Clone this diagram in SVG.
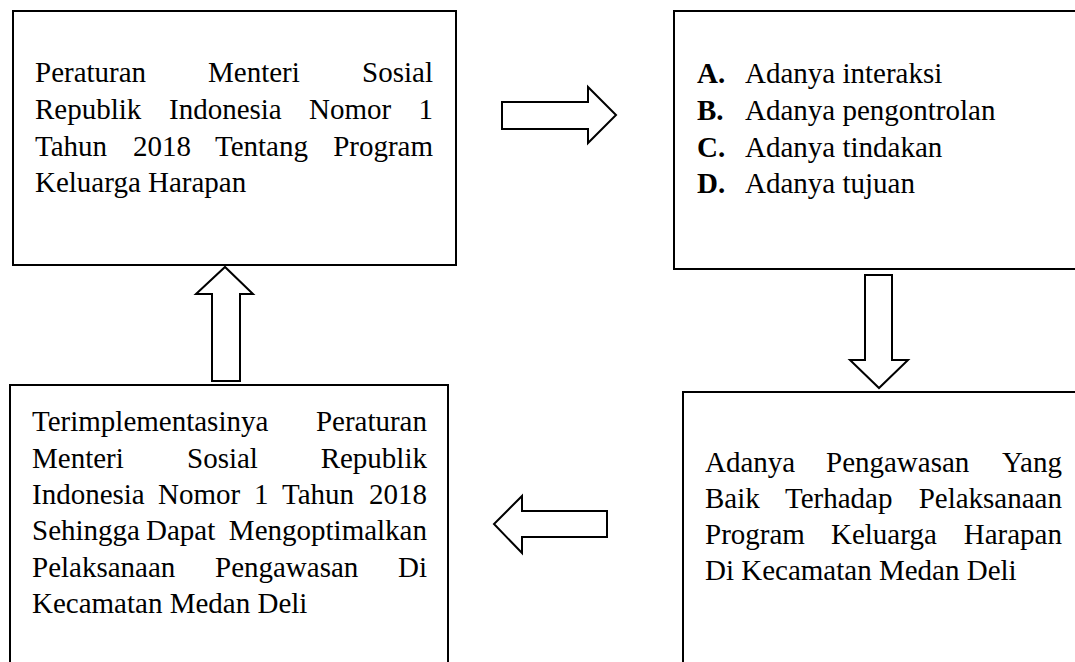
<svg xmlns="http://www.w3.org/2000/svg" width="1075" height="662" viewBox="0 0 1075 662">
<style>
.box{fill:#fff;stroke:#000;stroke-width:2}
.arr{fill:#fff;stroke:#000;stroke-width:2;stroke-linejoin:miter}
text{font-family:"Liberation Serif","Times New Roman",serif;font-size:29px;fill:#000}
.b{font-weight:bold}
.e{text-anchor:end}
</style>
<rect width="1075" height="662" fill="#fff"/>
<g id="node-peraturan">
<rect class="box" x="13" y="11" width="443" height="254"/>
<text x="35" y="82">Peraturan</text><text x="208" y="82">Menteri</text><text class="e" x="433" y="82">Sosial</text>
<text x="35" y="119">Republik</text><text x="169" y="119">Indonesia</text><text x="309" y="119">Nomor</text><text class="e" x="433" y="119">1</text>
<text x="35" y="156">Tahun</text><text x="133" y="156">2018</text><text x="215" y="156">Tentang</text><text class="e" x="433" y="156">Program</text>
<text x="35" y="192">Keluarga Harapan</text>
</g>
<g id="node-indikator">
<rect class="box" x="674" y="11" width="420" height="258"/>
<text class="b" x="697" y="83">A.</text><text x="745" y="83">Adanya interaksi</text>
<text class="b" x="697" y="120">B.</text><text x="745" y="120">Adanya pengontrolan</text>
<text class="b" x="697" y="157">C.</text><text x="745" y="157">Adanya tindakan</text>
<text class="b" x="697" y="193">D.</text><text x="745" y="193">Adanya tujuan</text>
</g>
<g id="node-pengawasan">
<rect class="box" x="683" y="392" width="420" height="300"/>
<text x="705" y="472">Adanya</text><text x="826" y="472">Pengawasan</text><text class="e" x="1062" y="472">Yang</text>
<text x="705" y="508">Baik</text><text x="785" y="508">Terhadap</text><text class="e" x="1062" y="508">Pelaksanaan</text>
<text x="705" y="544">Program</text><text x="831" y="544">Keluarga</text><text class="e" x="1062" y="544">Harapan</text>
<text x="705" y="580">Di Kecamatan Medan Deli</text>
</g>
<g id="node-terimplementasi">
<rect class="box" x="10" y="385" width="438" height="300"/>
<text x="32" y="431">Terimplementasinya</text><text class="e" x="427" y="431">Peraturan</text>
<text x="32" y="468">Menteri</text><text x="187" y="468">Sosial</text><text class="e" x="427" y="468">Republik</text>
<text x="32" y="504">Indonesia</text><text x="158" y="504">Nomor</text><text x="254" y="504">1</text><text x="282" y="504">Tahun</text><text class="e" x="427" y="504">2018</text>
<text x="32" y="540">Sehingga</text><text x="146" y="540">Dapat</text><text class="e" x="427" y="540">Mengoptimalkan</text>
<text x="32" y="577">Pelaksanaan</text><text x="215" y="577">Pengawasan</text><text class="e" x="427" y="577">Di</text>
<text x="32" y="613">Kecamatan Medan Deli</text>
</g>
<g id="connectors">
<polygon class="arr" points="502,102 588,102 588,87 616,115 588,143 588,129 502,129"/>
<polygon class="arr" points="865,275 892,275 892,360 908,360 879,388 850,360 865,360"/>
<polygon class="arr" points="607,511 522,511 522,496 494,524 522,553 522,537 607,537"/>
<polygon class="arr" points="212,381 212,294 196,294 225,267 253,294 240,294 240,381"/>
</g>
</svg>
